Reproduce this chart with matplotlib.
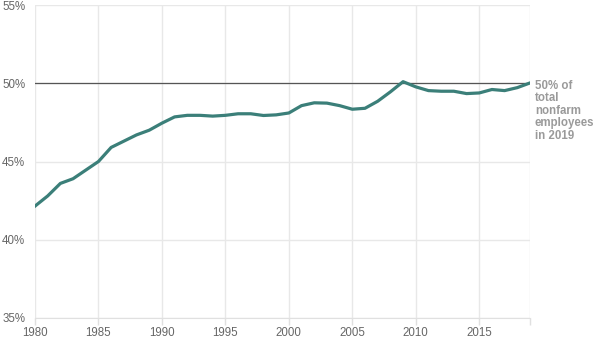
import matplotlib
matplotlib.use("Agg")
import matplotlib.pyplot as plt

years = list(range(1980, 2020))
share = [42.15, 42.8, 43.6, 43.9, 44.45, 45.0, 45.9, 46.3, 46.7, 47.0,
         47.45, 47.85, 47.95, 47.95, 47.9, 47.95, 48.05, 48.05, 47.94, 47.98,
         48.1, 48.57, 48.75, 48.73, 48.57, 48.34, 48.4, 48.85, 49.45, 50.1,
         49.77, 49.53, 49.49, 49.49, 49.34, 49.38, 49.6, 49.53, 49.72, 50.02]
xticks = [1980, 1985, 1990, 1995, 2000, 2005, 2010, 2015]
yticks = [35, 40, 45, 50, 55]
ref_value = 50
note = "50% of\ntotal\nnonfarm\nemployees\nin 2019"

plt.rcParams['font.family'] = ['Liberation Sans', 'DejaVu Sans']
fig = plt.figure(figsize=(6, 3.43), dpi=100)
ax = fig.add_axes([35/600, 1 - 318/343, 495/600, 313/343])

ax.set_xlim(1980, 2019)
ax.set_ylim(35, 55)
ax.set_xticks(xticks + [2019])
ax.set_xticklabels([str(t) for t in xticks] + [""])
ax.set_yticks(yticks)
ax.set_yticklabels([f"{t}%" for t in yticks])
ax.grid(True, color="#e8e8e8", linewidth=1)
ax.set_axisbelow(True)
for s in ["top", "right", "left"]:
    ax.spines[s].set_visible(False)
ax.spines["bottom"].set_color("#e0e0e0")
ax.tick_params(axis="x", colors="#666666", labelsize=8.3, length=5, width=1, pad=1.5)
ax.tick_params(axis="x", color="#e0e0e0")
ax.tick_params(axis="y", colors="#666666", labelsize=8.3, length=0, pad=7)

ax.axhline(ref_value, color="#555555", linewidth=0.9, zorder=2)
ax.plot(years, share, color="#3b7f79", linewidth=2.3, solid_joinstyle="round", zorder=3)

ax.annotate(note, xy=(years[-1], ref_value), xytext=(3.5, 2.5), textcoords="offset points",
            ha="left", va="top", fontsize=8.3, fontweight="bold", color="#9a9a9a",
            linespacing=1.05, annotation_clip=False)

fig.savefig("out.png", dpi=100)
